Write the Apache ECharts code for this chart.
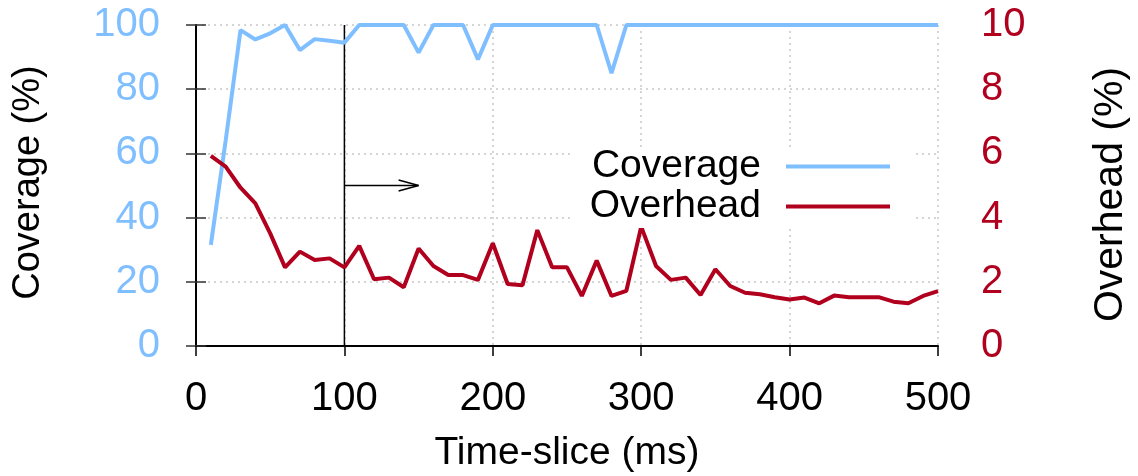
<!DOCTYPE html>
<html>
<head>
<meta charset="utf-8">
<script src="https://cdn.jsdelivr.net/npm/echarts@6/dist/echarts.min.js"></script>
<style>
html,body{margin:0;padding:0;background:#fff;}
#chart{width:1138px;height:476px;}
</style>
</head>
<body>
<div id="chart"></div>
<script>
const timeSlices = [10,20,30,40,50,60,70,80,90,100,110,120,130,140,150,160,170,180,190,200,210,220,230,240,250,260,270,280,290,300,310,320,330,340,350,360,370,380,390,400,410,420,430,440,450,460,470,480,490,500];
const coverage = [31.5,64,98.4,95.5,97.4,100,92.2,95.6,95.1,94.5,100,100,100,100,91.4,100,100,100,89.3,100,100,100,100,100,100,100,100,85,100,100,100,100,100,100,100,100,100,100,100,100,100,100,100,100,100,100,100,100,100,100];
const overhead = [5.92,5.59,4.93,4.44,3.51,2.45,2.94,2.68,2.73,2.45,3.12,2.08,2.13,1.83,3.04,2.49,2.21,2.21,2.06,3.2,1.93,1.89,3.61,2.45,2.45,1.56,2.66,1.56,1.72,3.72,2.49,2.06,2.13,1.59,2.39,1.87,1.66,1.61,1.52,1.45,1.51,1.33,1.57,1.52,1.52,1.52,1.38,1.33,1.56,1.71];
const xTicks = [0,100,200,300,400,500];
const leftTicks = [0,20,40,60,80,100];
const rightTicks = [0,2,4,6,8,10];
// annotation: vertical marker at x=100 and arrow pointing right (coverage-axis coordinates)
const markerLine = [[100,0],[100,100]];
const arrowShaft = [[100,50],[150,50]];
const arrowHead = [[136.5,51.7],[150,50],[136.5,48.3]];

const BLUE = '#80bfff';
const RED = '#b0001e';
const FONT = 'Liberation Sans';

const chart = echarts.init(document.getElementById('chart'));
chart.setOption({
  animation: false,
  backgroundColor: '#fff',
  textStyle: {fontFamily: FONT},
  grid: {left: 196, right: 200, top: 25, bottom: 130, containLabel: false, outerBoundsMode: 'none'},
  legend: {
    data: ['Coverage','Overhead'],
    orient: 'vertical',
    align: 'right',
    right: 225,
    top: 147,
    padding: [0, 23, 2, 18],
    backgroundColor: '#fff',
    itemWidth: 104,
    itemHeight: 4,
    itemGap: 1,
    icon: 'rect',
    textStyle: {fontSize: 39, color: '#000', fontFamily: FONT, lineHeight: 39, padding: [0, 20, 0, 0]},
    selectedMode: false
  },
  xAxis: {
    type: 'value', min: 0, max: 500, interval: 100,
    name: 'Time-slice (ms)', nameLocation: 'middle', nameGap: 88, nameMoveOverlap: false,
    nameTextStyle: {fontSize: 39, color: '#000', fontFamily: FONT},
    axisLine: {show: true, lineStyle: {color: '#000', width: 2}},
    axisTick: {show: true, inside: false, length: 10, lineStyle: {color: '#000', width: 1.5}},
    axisLabel: {fontSize: 40, color: '#000', margin: 33, fontFamily: FONT},
    splitLine: {show: true, lineStyle: {color: '#c8c8c8', type: [2, 4], width: 1.5}}
  },
  yAxis: [
    {
      type: 'value', min: 0, max: 100, interval: 20, position: 'left',
      name: 'Coverage (%)', nameLocation: 'middle', nameGap: 148, nameRotate: 90, nameMoveOverlap: false,
      nameTextStyle: {fontSize: 38, color: '#000', fontFamily: FONT, padding: [0, 0, 0, 6]},
      axisLine: {show: true, onZero: false, lineStyle: {color: '#000', width: 2}},
      axisTick: {show: true, inside: false, length: 10, lineStyle: {color: '#333', width: 1.5}},
      axisLabel: {fontSize: 40, color: BLUE, margin: 36, fontFamily: FONT},
      splitLine: {show: true, lineStyle: {color: '#c8c8c8', type: [2, 4], width: 1.5}}
    },
    {
      type: 'value', min: 0, max: 10, interval: 2, position: 'right',
      name: 'Overhead (%)', nameLocation: 'middle', nameGap: 152, nameRotate: 90, nameMoveOverlap: false,
      nameTextStyle: {fontSize: 41, color: '#000', fontFamily: FONT, padding: [0, 18, 0, 0]},
      axisLine: {show: false},
      axisTick: {show: true, inside: false, length: 10, lineStyle: {color: '#333', width: 1.5}},
      axisLabel: {fontSize: 40, color: RED, margin: 43, fontFamily: FONT},
      splitLine: {show: false}
    }
  ],
  series: [
    {
      name: 'marker', type: 'line', yAxisIndex: 0, silent: true, symbol: 'none',
      data: markerLine, lineStyle: {color: '#000', width: 1.5}, z: 1
    },
    {
      name: 'arrow', type: 'line', yAxisIndex: 0, silent: true, symbol: 'none',
      data: arrowShaft, lineStyle: {color: '#000', width: 1.5}, z: 1
    },
    {
      name: 'arrowhead', type: 'line', yAxisIndex: 0, silent: true, symbol: 'none',
      data: arrowHead, lineStyle: {color: '#000', width: 1.5}, z: 1
    },
    {
      name: 'Coverage', type: 'line', yAxisIndex: 0, symbol: 'none',
      data: timeSlices.map((x, i) => [x, coverage[i]]),
      lineStyle: {color: BLUE, width: 4}, itemStyle: {color: BLUE}, z: 3
    },
    {
      name: 'Overhead', type: 'line', yAxisIndex: 1, symbol: 'none',
      data: timeSlices.map((x, i) => [x, overhead[i]]),
      lineStyle: {color: RED, width: 4}, itemStyle: {color: RED}, z: 3
    }
  ]
});
</script>
</body>
</html>
